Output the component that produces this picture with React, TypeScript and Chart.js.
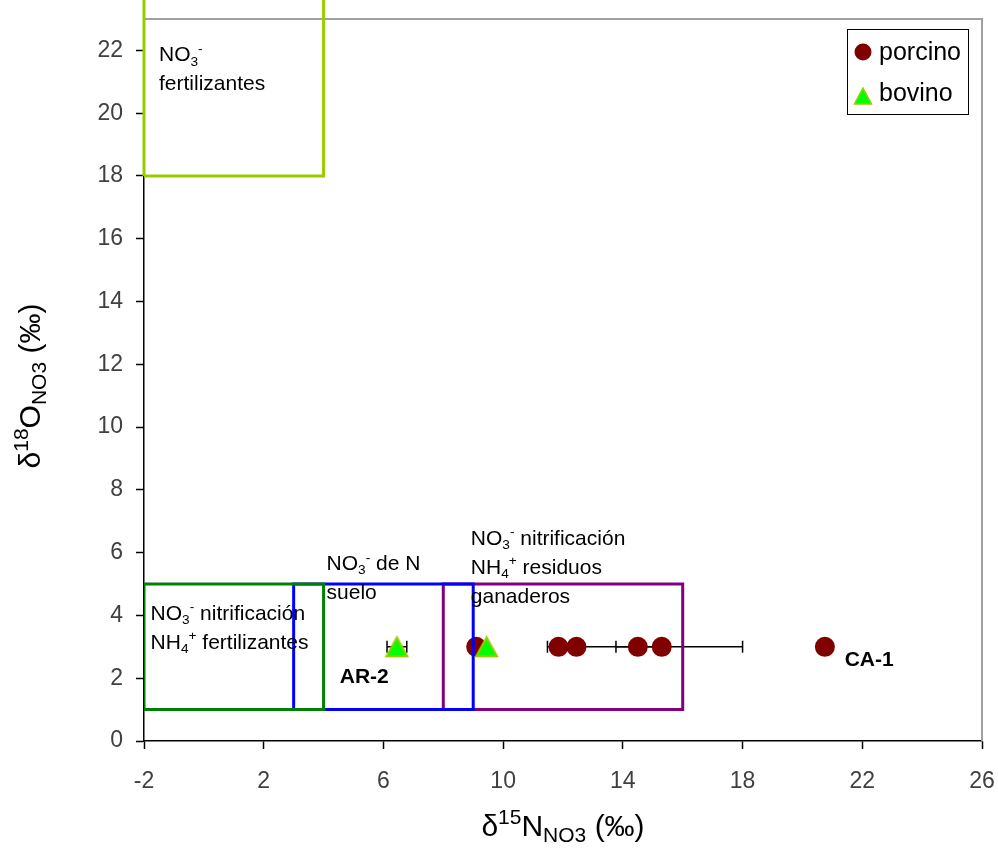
import React, { useEffect, useRef } from 'react';
import { Chart, registerables } from 'chart.js';

Chart.register(...registerables);

// ---- data ----
const porcinoX = [9.1, 11.85, 12.45, 14.5, 15.3, 20.75];
const porcinoY = [3, 3, 3, 3, 3, 3];
const porcinoXErr = [0, 0.37, 0.2, 0.73, 2.7, 0.1];

const bovinoX = [6.45, 9.45];
const bovinoY = [3, 3];
const bovinoXErr = [0.33, 0];

const boxNames = ['NO3- fertilizantes', 'NO3- nitrificación NH4+ fertilizantes', 'NO3- de N suelo', 'NO3- nitrificación NH4+ residuos ganaderos'];
const boxXMin = [-2, -2, 3, 8];
const boxXMax = [4, 4, 9, 16];
const boxYMin = [18, 1, 1, 1];
const boxYMax = [30, 5, 5, 5];
const boxColors = ['#99cc00', '#008000', '#0000ff', '#800080'];

const xMin = -2, xMax = 26, xStep = 4;
const yMin = 0, yMax = 23, yStep = 2;

type Seg = [string, ('sub' | 'sup')?];
const annotations: { x: number; y: number; lines: Seg[][] }[] = [
  { x: -1.5, y: 21.65, lines: [[['NO'], ['3', 'sub'], ['-', 'sup']], [['fertilizantes']]] },
  { x: -1.78, y: 3.86, lines: [[['NO'], ['3', 'sub'], ['-', 'sup'], [' nitrificación']], [['NH'], ['4', 'sub'], ['+', 'sup'], [' fertilizantes']]] },
  { x: 4.1, y: 5.45, lines: [[['NO'], ['3', 'sub'], ['-', 'sup'], [' de N']], [['suelo']]] },
  { x: 8.92, y: 6.25, lines: [[['NO'], ['3', 'sub'], ['-', 'sup'], [' nitrificación']], [['NH'], ['4', 'sub'], ['+', 'sup'], [' residuos']], [['ganaderos']]] },
];
const pointLabels = [
  { text: 'AR-2', x: 4.54, y: 1.85 },
  { text: 'CA-1', x: 21.41, y: 2.39 },
];
const xTitle: Seg[] = [['δ'], ['15', 'sup'], ['N'], ['NO3', 'sub'], [' (‰)']];
const yTitle: Seg[] = [['δ'], ['18', 'sup'], ['O'], ['NO3', 'sub'], [' (‰)']];

const FONT = '"Liberation Sans", Arial, Helvetica, sans-serif';

function segWidth(ctx: CanvasRenderingContext2D, segs: Seg[], size: number, weight: string, ratio: number) {
  let w = 0;
  for (const [t, m] of segs) {
    const fs = m ? size * ratio : size;
    ctx.font = `${weight} ${fs}px ${FONT}`;
    w += ctx.measureText(t).width;
  }
  return w;
}

function drawRich(ctx: CanvasRenderingContext2D, segs: Seg[], x: number, y: number, size: number, weight = 'normal', color = '#000', ratio = 0.65) {
  let cx = x;
  ctx.fillStyle = color;
  ctx.textBaseline = 'alphabetic';
  ctx.textAlign = 'left';
  for (const [t, m] of segs) {
    const fs = m ? size * ratio : size;
    ctx.font = `${weight} ${fs}px ${FONT}`;
    const dy = m === 'sub' ? size * 0.2 : m === 'sup' ? -size * 0.4 : 0;
    ctx.fillText(t, cx, y + dy);
    cx += ctx.measureText(t).width;
  }
}

function makeTriangle(w: number, h: number, lw: number) {
  const c = document.createElement('canvas');
  c.width = w + lw * 2;
  c.height = h + lw * 2;
  const g = c.getContext('2d')!;
  g.beginPath();
  g.moveTo(c.width / 2, lw);
  g.lineTo(c.width - lw, c.height - lw);
  g.lineTo(lw, c.height - lw);
  g.closePath();
  g.fillStyle = '#00ff00';
  g.fill();
  g.lineWidth = lw;
  g.strokeStyle = '#99cc00';
  g.lineJoin = 'miter';
  g.stroke();
  return c;
}

const framePlugin = {
  id: 'frame',
  beforeDraw(chart: any) {
    const { ctx } = chart;
    ctx.save();
    ctx.fillStyle = '#fff';
    ctx.fillRect(0, 0, chart.width, chart.height);
    ctx.restore();
  },
  beforeDatasetsDraw(chart: any) {
    const { ctx, chartArea: a, scales: { x, y } } = chart;
    ctx.save();
    ctx.strokeStyle = '#a0a0a0';
    ctx.lineWidth = 2;
    ctx.beginPath();
    ctx.moveTo(a.left, a.top);
    ctx.lineTo(a.right, a.top);
    ctx.lineTo(a.right, a.bottom);
    ctx.stroke();
    // error bars
    ctx.strokeStyle = '#000';
    ctx.lineWidth = 1.5;
    chart.data.datasets.forEach((ds: any) => {
      if (!ds.xErr) return;
      ds.data.forEach((p: any, i: number) => {
        const e = ds.xErr[i];
        if (!e) return;
        const py = y.getPixelForValue(p.y);
        const x0 = x.getPixelForValue(p.x - e);
        const x1 = x.getPixelForValue(p.x + e);
        ctx.beginPath();
        ctx.moveTo(x0, py); ctx.lineTo(x1, py);
        ctx.moveTo(x0, py - 6); ctx.lineTo(x0, py + 6);
        ctx.moveTo(x1, py - 6); ctx.lineTo(x1, py + 6);
        ctx.stroke();
      });
    });
    ctx.restore();
  },
  afterDatasetsDraw(chart: any) {
    const { ctx, chartArea: a, scales: { x, y } } = chart;
    ctx.save();
    // annotations
    for (const an of annotations) {
      const px = x.getPixelForValue(an.x);
      const py = y.getPixelForValue(an.y);
      an.lines.forEach((ln, i) => drawRich(ctx, ln, px, py + i * 29, 21));
    }
    for (const pl of pointLabels) {
      drawRich(ctx, [[pl.text]], x.getPixelForValue(pl.x), y.getPixelForValue(pl.y), 21, 'bold');
    }
    // legend
    const lw = 121, lh = 85;
    const lx = a.right - 14 - lw, ly = a.top + 10;
    ctx.fillStyle = '#fff';
    ctx.fillRect(lx, ly, lw, lh);
    ctx.strokeStyle = '#000';
    ctx.lineWidth = 1;
    ctx.strokeRect(lx + 0.5, ly + 0.5, lw, lh);
    const items = chart.data.datasets.filter((d: any) => d.legendOrder !== undefined)
      .sort((p: any, q: any) => p.legendOrder - q.legendOrder);
    items.forEach((d: any, i: number) => {
      const cy = ly + 23 + i * 41;
      const cx = lx + 16;
      if (d.legendShape === 'circle') {
        ctx.beginPath();
        ctx.arc(cx, cy, 8.5, 0, Math.PI * 2);
        ctx.fillStyle = d.backgroundColor;
        ctx.fill();
      } else {
        ctx.beginPath();
        ctx.moveTo(cx, cy - 5);
        ctx.lineTo(cx + 8.5, cy + 11);
        ctx.lineTo(cx - 8.5, cy + 11);
        ctx.closePath();
        ctx.fillStyle = '#00ff00';
        ctx.fill();
        ctx.strokeStyle = '#99cc00';
        ctx.lineWidth = 1.5;
        ctx.stroke();
      }
      ctx.fillStyle = '#000';
      ctx.font = `25px ${FONT}`;
      ctx.textBaseline = 'middle';
      ctx.textAlign = 'left';
      ctx.fillText(d.label, lx + 32, cy + 1);
    });
    ctx.restore();
  },
  afterDraw(chart: any) {
    const { ctx, chartArea: a } = chart;
    ctx.save();
    const size = 30;
    const ratio = 0.7;
    const wx = segWidth(ctx, xTitle, size, 'normal', ratio);
    drawRich(ctx, xTitle, (a.left + a.right) / 2 - wx / 2, 836, size, 'normal', '#000', ratio);
    const wy = segWidth(ctx, yTitle, size, 'normal', ratio);
    ctx.translate(40, (a.top + a.bottom) / 2 + 6);
    ctx.rotate(-Math.PI / 2);
    drawRich(ctx, yTitle, -wy / 2, 0, size, 'normal', '#000', ratio);
    ctx.restore();
  },
};

export default function App() {
  const ref = useRef<HTMLCanvasElement>(null);
  useEffect(() => {
    if (!ref.current) return;
    const tri = makeTriangle(21, 19, 2);
    const boxDatasets = boxNames.map((name, i) => ({
      label: name,
      data: [
        { x: boxXMin[i], y: boxYMin[i] },
        { x: boxXMax[i], y: boxYMin[i] },
        { x: boxXMax[i], y: boxYMax[i] },
        { x: boxXMin[i], y: boxYMax[i] },
        { x: boxXMin[i], y: boxYMin[i] },
      ],
      showLine: true,
      borderColor: boxColors[i],
      backgroundColor: boxColors[i],
      borderWidth: 3,
      pointRadius: 0,
      fill: false,
      tension: 0,
      borderJoinStyle: 'miter',
      clip: i === 0 ? false : undefined,
    }));
    const chart = new Chart(ref.current, {
      type: 'scatter',
      data: {
        datasets: [
          {
            label: 'bovino',
            legendOrder: 1,
            legendShape: 'triangle',
            data: bovinoX.map((v, i) => ({ x: v, y: bovinoY[i] })),
            xErr: bovinoXErr,
            pointStyle: tri,
            pointRadius: 11,
            backgroundColor: '#00ff00',
            borderColor: '#99cc00',
          } as any,
          ...(boxDatasets as any[]),
          {
            label: 'porcino',
            legendOrder: 0,
            legendShape: 'circle',
            data: porcinoX.map((v, i) => ({ x: v, y: porcinoY[i] })),
            xErr: porcinoXErr,
            pointStyle: 'circle',
            pointRadius: 10,
            borderWidth: 0,
            backgroundColor: '#800000',
            borderColor: '#800000',
          } as any,
        ],
      },
      options: {
        animation: false,
        responsive: false,
        devicePixelRatio: 1,
        layout: { padding: { top: 19, right: 16, left: 0, bottom: 0 } },
        plugins: { legend: { display: false }, tooltip: { enabled: false } },
        events: [],
        scales: {
          x: {
            type: 'linear',
            min: xMin,
            max: xMax,
            ticks: { stepSize: xStep, color: '#404040', font: { size: 23, family: FONT }, padding: 19, maxRotation: 0 },
            grid: { drawOnChartArea: false, drawTicks: true, tickLength: 8, color: '#000', tickWidth: 1.5 },
            border: { display: true, color: '#000', width: 1.5 },
            afterFit: (s: any) => { s.height = 111; s.paddingLeft = 0; s.paddingRight = 0; },
          },
          y: {
            type: 'linear',
            min: yMin,
            max: yMax,
            ticks: { stepSize: yStep, color: '#404040', font: { size: 23, family: FONT }, padding: 13 },
            grid: { drawOnChartArea: false, drawTicks: true, tickLength: 8, color: '#000', tickWidth: 1.5 },
            border: { display: true, color: '#000', width: 1.5 },
            afterBuildTicks: (s: any) => { s.ticks = s.ticks.filter((t: any) => t.value % yStep === 0); },
            afterFit: (s: any) => { s.width = 144; s.paddingTop = 0; s.paddingBottom = 0; },
          },
        },
      } as any,
      plugins: [framePlugin],
    });
    return () => chart.destroy();
  }, []);
  return (
    <div style={{ position: 'absolute', left: 0, top: 0, width: 998, height: 852 }}>
      <canvas ref={ref} width={998} height={852} style={{ width: 998, height: 852 }} />
    </div>
  );
}
